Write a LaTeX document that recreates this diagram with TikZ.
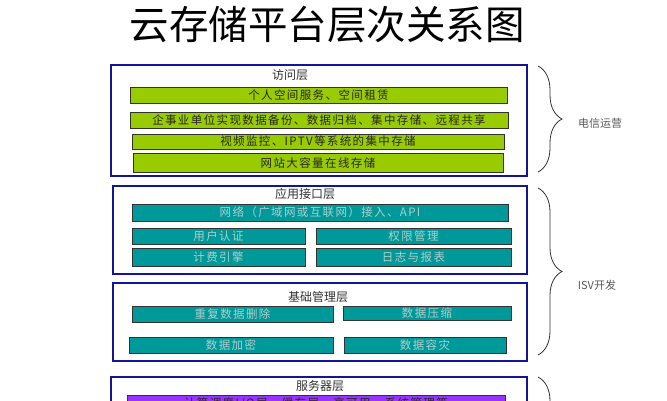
\documentclass[tikz,border=0pt]{standalone}
\usepackage{fontspec}
\newfontfamily\cjk{Noto Sans CJK SC}
\newfontfamily\cjkbar[LetterSpace=12]{Noto Sans CJK SC}
\usetikzlibrary{decorations.pathreplacing,calc}
\definecolor{framebl}{RGB}{20,20,150}
\definecolor{barg}{RGB}{153,204,0}
\definecolor{bart}{RGB}{0,153,153}
\definecolor{barp}{RGB}{153,51,255}
\definecolor{txtt}{RGB}{175,205,205}

\begin{document}
\begin{tikzpicture}[x=1pt,y=-1pt]
\tikzset{layer/.style = {draw=framebl, line width=1.6pt, inner sep=0pt},
  bar/.style = {draw=black!80, line width=1pt, inner sep=0pt, font=\cjkbar\fontsize{11.5}{12}\selectfont},
  greenbar/.style = {bar, fill=barg, text=black!85},
  tealbar/.style = {bar, fill=bart, text=txtt},
  purplebar/.style = {bar, fill=barp, text=black!85},
  layertitle/.style = {font=\cjk\fontsize{12}{12}\selectfont, text=black!80, inner sep=0pt},
  sidelabel/.style = {font=\cjk\fontsize{11}{12}\selectfont, text=black!65, inner sep=0pt},
  curly/.style = {decorate, decoration={brace,amplitude=24pt}, line width=0.8pt, black!80}}
\useasboundingbox (0,0) rectangle (667,400);
\clip (0,0) rectangle (667,400);

\node[font=\cjk\fontsize{39.5}{40}\selectfont, inner sep=0pt] (title) at (327,25) {云存储平台层次关系图};

% access layer
\node[layer, minimum width=416, minimum height=111] (access) at (319,120.5) {};
\node[layertitle] (accesst) at (290,75) {访问层};
\node[greenbar, minimum width=377, minimum height=16] (personal) at (318.5,95) {个人空间服务、空间租赁};
\node[greenbar, minimum width=378, minimum height=16] (enterprise) at (319,120) {企事业单位实现数据备份、数据归档、集中存储、远程共享};
\node[greenbar, minimum width=372, minimum height=15] (video) at (318,141.5) {视频监控、IPTV等系统的集中存储};
\node[greenbar, minimum width=370, minimum height=19] (website) at (318,163) {网站大容量在线存储};

% application interface layer
\node[layer, minimum width=414, minimum height=88] (appif) at (320,230) {};
\node[layertitle] (appift) at (305,194) {应用接口层};
\node[tealbar, minimum width=376, minimum height=17] (api) at (320,212.5) {网络（广域网或互联网）接入、API};
\node[tealbar, minimum width=173, minimum height=16] (auth) at (218.5,236) {用户认证};
\node[tealbar, minimum width=195, minimum height=16] (perm) at (413.5,236) {权限管理};
\node[tealbar, minimum width=173, minimum height=18] (billing) at (218.5,257) {计费引擎};
\node[tealbar, minimum width=195, minimum height=18] (logs) at (413.5,257) {日志与报表};

% base management layer
\node[layer, minimum width=414, minimum height=78] (basemgmt) at (320,322) {};
\node[layertitle] (basemgmtt) at (318,297) {基础管理层};
\node[tealbar, minimum width=201, minimum height=16] (dedup) at (232.5,314) {重复数据删除};
\node[tealbar, minimum width=168, minimum height=14] (compress) at (427,313.5) {数据压缩};
\node[tealbar, minimum width=204, minimum height=16] (encrypt) at (231,345) {数据加密};
\node[tealbar, minimum width=162, minimum height=16] (disaster) at (425,345) {数据容灾};

% server layer
\node[layer, minimum width=416, minimum height=80] (server) at (319,417) {};
\node[layertitle] (servert) at (320,386) {服务器层};
\node[purplebar, minimum width=378, minimum height=17] (cluster) at (316,404) {计算调度I/O层、缓存层、高可用、系统管理等};

% braces
\coordinate (b1a) at (538,66);  \coordinate (b1b) at (538,172);
\coordinate (b2a) at (538,188); \coordinate (b2b) at (538,355);
\coordinate (b3a) at (538,377); \coordinate (b3b) at (538,520);
\draw[curly] (b1a) -- (b1b);
\draw[curly] (b2a) -- (b2b);
\draw[curly] (b3a) -- (b3b);
\node[sidelabel] (telecom) at (600,123) {电信运营};
\node[sidelabel] (isv) at (597,285) {ISV开发};
\end{tikzpicture}
\end{document}
